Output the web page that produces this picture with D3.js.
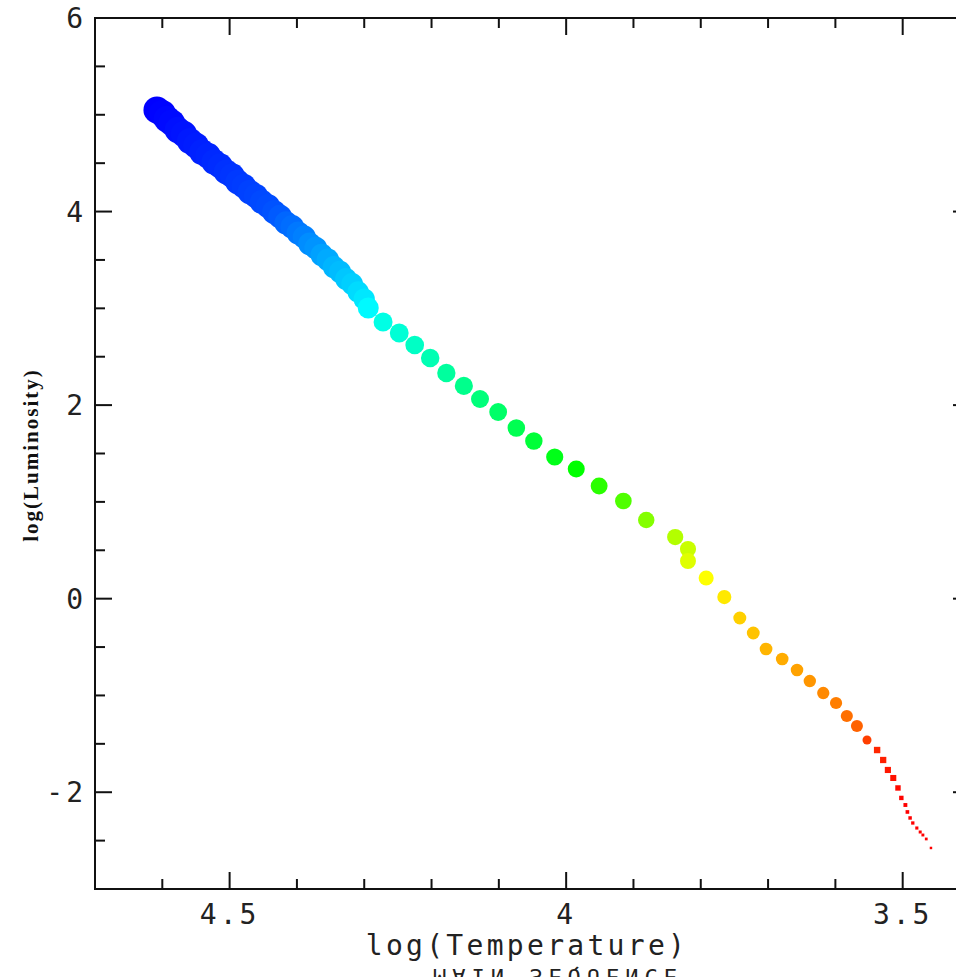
<!DOCTYPE html>
<html>
<head>
<meta charset="utf-8">
<script src="https://cdn.jsdelivr.net/npm/d3@7"></script>
<style>
  html, body { margin: 0; padding: 0; background: #fff; overflow: hidden; }
  svg { display: block; }
</style>
</head>
<body>
<script>
// ---- data ----
const logT = [
  4.608, 4.600, 4.593, 4.586, 4.577, 4.568, 4.559, 4.550, 4.541, 4.532,
  4.523, 4.514, 4.505, 4.496, 4.488, 4.479, 4.470, 4.461, 4.452, 4.443,
  4.434, 4.425, 4.416, 4.407, 4.398, 4.389, 4.381, 4.372, 4.363, 4.354,
  4.345, 4.336, 4.327, 4.318, 4.309, 4.300, 4.294,
  4.272, 4.248, 4.225, 4.202, 4.178, 4.152, 4.128, 4.101, 4.074, 4.048,
  4.017, 3.985, 3.951, 3.915, 3.881, 3.838, 3.819, 3.819, 3.792, 3.765,
  3.742, 3.722, 3.703, 3.679, 3.657, 3.638, 3.618, 3.599, 3.583, 3.568,
  3.553, 3.538, 3.529, 3.522, 3.514, 3.507, 3.502, 3.496, 3.493, 3.489,
  3.485, 3.479, 3.474, 3.470, 3.465, 3.458
];
const logL = [
  5.049, 5.015, 4.956, 4.918, 4.843, 4.802, 4.729, 4.683, 4.615, 4.578,
  4.512, 4.472, 4.409, 4.370, 4.305, 4.264, 4.202, 4.162, 4.099, 4.057,
  3.995, 3.947, 3.882, 3.842, 3.778, 3.736, 3.665, 3.623, 3.551, 3.502,
  3.427, 3.377, 3.303, 3.252, 3.169, 3.095, 3.004,
  2.859, 2.745, 2.621, 2.487, 2.332, 2.198, 2.063, 1.929, 1.764, 1.629,
  1.464, 1.340, 1.164, 1.009, 0.813, 0.637, 0.513, 0.389, 0.214, 0.017,
  -0.200, -0.355, -0.520, -0.623, -0.737, -0.851, -0.975, -1.078, -1.212, -1.316,
  -1.460, -1.564, -1.667, -1.770, -1.853, -1.956, -2.059, -2.132, -2.204, -2.266,
  -2.318, -2.370, -2.411, -2.442, -2.483, -2.576
];
const xTickLabels = ["4.5", "4", "3.5"];
const xTickValues = [4.5, 4.0, 3.5];
const yTickLabels = ["6", "4", "2", "0", "-2"];
const yTickValues = [6, 4, 2, 0, -2];
const xTitle = "log(Temperature)";
const yTitle = "log(Luminosity)";
const bottomText = "MAIN SEQUENCE";

// ---- layout ----
const W = 956, H = 977;
const mLeft = 95, mRight = 970, mTop = 18, mBottom = 889;

const svg = d3.select("body").append("svg").attr("width", W).attr("height", H);

const x = d3.scaleLinear().domain([4.7, 3.4]).range([mLeft, mRight]);
const y = d3.scaleLinear().domain([-3, 6]).range([mBottom, mTop]);

// colour: hue runs blue -> red with luminosity
const hue = d3.scaleLinear()
  .domain([5.05, 4.0, 3.5, 3.1, 2.86, 2.2, 1.76, 1.34, 1.0, 0.64, 0.21, -0.2, -0.74, -1.3, -1.56, -2.1])
  .range([240, 221, 200, 186, 174, 153, 139, 120, 101, 78, 60, 49, 38, 24, 9, 0])
  .clamp(true);
const radius = d3.scaleLinear()
  .domain([5.05, 3.0, 2.86, 1.3, 0.4, -0.2, -1.32, -1.46, -1.56, -1.9, -2.1, -2.6])
  .range([13.5, 10.5, 9.5, 8.5, 8, 6.5, 6, 4.5, 3.2, 3, 2, 1.2])
  .clamp(true);

const data = logT.map((t, i) => ({ t, l: logL[i] }));

// ---- markers ----
const g = svg.append("g");
g.selectAll("path.pt")
  .data(data)
  .join("path")
  .attr("class", "pt")
  .attr("transform", d => `translate(${x(d.t)},${y(d.l)})`)
  .attr("d", d => {
    const r = radius(d.l);
    if (r >= 4) return d3.symbol(d3.symbolCircle, Math.PI * r * r)();
    return d3.symbol(d3.symbolSquare, (2 * r) * (2 * r))();
  })
  .attr("fill", d => d3.hsl(hue(d.l), 1, 0.5).toString());

// ---- frame ----
const frame = svg.append("g").attr("stroke", "#111").attr("stroke-width", 2).attr("fill", "none");
frame.append("rect").attr("x", mLeft).attr("y", mTop).attr("width", mRight - mLeft).attr("height", mBottom - mTop);

// x ticks (inward, bottom and top)
const xMinor = d3.range(46, 34, -1).map(v => v / 10).filter(v => !xTickValues.some(m => Math.abs(m - v) < 1e-6));
xMinor.forEach(v => {
  frame.append("line").attr("x1", x(v)).attr("x2", x(v)).attr("y1", mBottom).attr("y2", mBottom - 10);
  frame.append("line").attr("x1", x(v)).attr("x2", x(v)).attr("y1", mTop).attr("y2", mTop + 10);
});
xTickValues.forEach(v => {
  frame.append("line").attr("x1", x(v)).attr("x2", x(v)).attr("y1", mBottom).attr("y2", mBottom - 17);
  frame.append("line").attr("x1", x(v)).attr("x2", x(v)).attr("y1", mTop).attr("y2", mTop + 17);
});
// y ticks (inward, left and right)
const yMinor = d3.range(-5, 12).map(v => v / 2).filter(v => v > -3 && v < 6 && !yTickValues.includes(v));
yMinor.forEach(v => {
  frame.append("line").attr("y1", y(v)).attr("y2", y(v)).attr("x1", mLeft).attr("x2", mLeft + 10);
  frame.append("line").attr("y1", y(v)).attr("y2", y(v)).attr("x1", mRight).attr("x2", mRight - 10);
});
yTickValues.forEach(v => {
  frame.append("line").attr("y1", y(v)).attr("y2", y(v)).attr("x1", mLeft).attr("x2", mLeft + 17);
  frame.append("line").attr("y1", y(v)).attr("y2", y(v)).attr("x1", mRight).attr("x2", mRight - 17);
});

// ---- labels ----
const mono = "'DejaVu Sans Mono', 'Liberation Mono', monospace";
const lab = svg.append("g").attr("font-family", mono).attr("font-size", 28).attr("fill", "#222");
xTickValues.forEach((v, i) => {
  lab.append("text").attr("x", x(v)).attr("y", 924).attr("text-anchor", "middle")
    .attr("letter-spacing", 3).text(xTickLabels[i]);
});
yTickValues.forEach((v, i) => {
  lab.append("text").attr("x", 86).attr("y", y(v) + 10).attr("text-anchor", "end")
    .attr("letter-spacing", 3).text(yTickLabels[i]);
});
lab.append("text").attr("x", 527).attr("y", 955).attr("text-anchor", "middle")
  .attr("letter-spacing", 3.3).text(xTitle);

// flipped, cut-off text at the very bottom
svg.append("text")
  .attr("transform", "translate(558,969) scale(1,-1)")
  .attr("text-anchor", "middle")
  .attr("font-family", mono).attr("font-size", 22).attr("letter-spacing", 6)
  .attr("fill", "#222")
  .text(bottomText);

// y title (rotated, bold serif)
svg.append("text")
  .attr("transform", "translate(38,455) rotate(-90)")
  .attr("text-anchor", "middle")
  .attr("font-family", "'Liberation Serif', 'DejaVu Serif', serif")
  .attr("font-weight", "bold")
  .attr("font-size", 21)
  .attr("letter-spacing", 2)
  .attr("fill", "#111")
  .text(yTitle);
</script>
</body>
</html>
